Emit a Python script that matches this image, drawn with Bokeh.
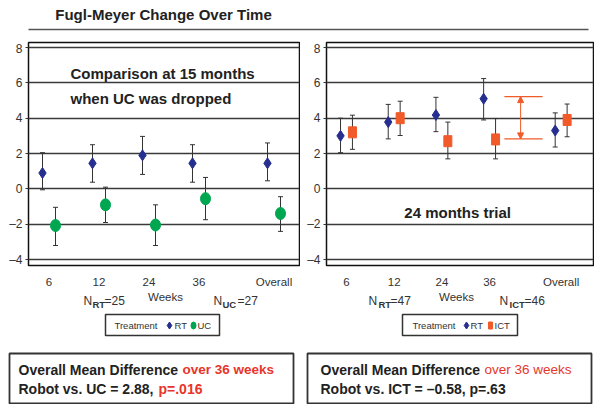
from bokeh.plotting import figure
from bokeh.layouts import column, row
from bokeh.models import (Range1d, FixedTicker, ColumnDataSource, Whisker, TeeHead,
                          Label, Arrow, NormalHead)
from bokeh.embed import file_html
from bokeh.resources import INLINE

FONT = "Liberation Sans"

# ---------------- data ----------------
categories = ["6", "12", "24", "36", "Overall"]
cat_pos = [0, 1, 2, 3, 4.5]
y_ticks = [-4, -2, 0, 2, 4, 6, 8]

# 15-month comparison (RT vs UC)
rt15_mean = [0.9, 1.45, 1.9, 1.45, 1.45]
rt15_lower = [-0.05, 0.38, 0.82, 0.38, 0.46]
rt15_upper = [2.05, 2.5, 2.97, 2.5, 2.6]
uc_mean = [-2.07, -0.9, -2.04, -0.55, -1.39]
uc_lower = [-3.2, -1.9, -3.2, -1.74, -2.4]
uc_upper = [-1.04, 0.1, -0.9, 0.65, -0.44]

# 24-month trial (RT vs ICT)
rt24_mean = [3.0, 3.78, 4.18, 5.1, 3.3]
rt24_lower = [2.05, 2.83, 3.24, 3.9, 2.37]
rt24_upper = [4.0, 4.78, 5.18, 6.24, 4.3]
ict_mean = [3.2, 4.0, 2.7, 2.8, 3.9]
ict_lower = [2.24, 3.02, 1.7, 1.7, 2.95]
ict_upper = [4.17, 4.96, 3.78, 3.98, 4.8]

gap_values = [5.22, 2.83]
bracket_x = [3.31, 4.11]
arrow_x = 3.65

n_left = [("RT", "25"), ("UC", "27")]
n_right = [("RT", "47"), ("ICT", "46")]

title_text = "Fugl-Meyer Change Over Time"
left_note = ["Comparison at 15 months", "when UC was dropped"]
right_note = "24 months trial"
box_left = [("Overall Mean Difference ", "over 36 weeks"), ("Robot vs. UC = 2.88, ", "p=.016")]
box_right = [("Overall Mean Difference ", "over 36 weeks"), ("Robot vs. ICT = \u20130.58, p=.63", "")]

# ---------------- styles ----------------
BLUE = "#262f8f"
GREEN = "#00a650"
ORANGE = "#f15a29"
RED = "#e8352b"
DARK = "#222222"
GRID = "#3a3a3a"


def lbl(p, x, y, text, size="12px", bold=False, color=DARK, align="left", baseline="middle"):
    p.add_layout(Label(x=x, y=y, text=text, text_font=FONT, text_font_size=size,
                       text_font_style="bold" if bold else "normal", text_color=color,
                       text_align=align, text_baseline=baseline))


def panel(width, mleft, mright, xs, xe):
    p = figure(width=width, height=249, x_range=Range1d(xs, xe), y_range=Range1d(-4.33, 8.28),
               toolbar_location=None, output_backend="svg",
               min_border_left=mleft, min_border_right=mright, min_border_top=1, min_border_bottom=21)
    p.background_fill_color = "white"
    p.border_fill_color = "white"
    p.outline_line_color = "#111111"
    p.outline_line_width = 1.5
    p.xgrid.visible = False
    p.ygrid.ticker = FixedTicker(ticks=y_ticks)
    p.ygrid.grid_line_color = GRID
    p.ygrid.grid_line_width = 1.5
    p.yaxis.ticker = FixedTicker(ticks=y_ticks)
    p.yaxis.major_label_overrides = {t: (("\u2013" + str(-t)) if t < 0 else str(t)) for t in y_ticks}
    p.yaxis.axis_line_color = None
    p.yaxis.major_tick_out = 3
    p.yaxis.major_tick_in = 0
    p.yaxis.major_tick_line_color = "#333333"
    p.yaxis.minor_tick_line_color = None
    p.yaxis.major_label_standoff = 3
    p.yaxis.major_label_text_font = FONT
    p.yaxis.major_label_text_font_size = "12px"
    p.yaxis.major_label_text_color = "#333333"
    p.xaxis.ticker = FixedTicker(ticks=cat_pos)
    p.xaxis.major_label_overrides = {c: l for c, l in zip(cat_pos, categories)}
    p.xaxis.axis_line_color = None
    p.xaxis.major_tick_line_color = None
    p.xaxis.minor_tick_line_color = None
    p.xaxis.major_label_standoff = 4
    p.xaxis.major_label_text_font = FONT
    p.xaxis.major_label_text_font_size = "11.5px"
    p.xaxis.major_label_text_color = "#333333"
    return p


def series(p, offset, mean, lower, upper, kind, color):
    xs = [c + offset for c in cat_pos]
    src = ColumnDataSource(dict(x=xs, y=mean, lo=lower, hi=upper))
    p.add_layout(Whisker(source=src, base="x", upper="hi", lower="lo", dimension="height",
                         line_color="#333333", line_width=1,
                         upper_head=TeeHead(size=5, line_color="#333333", line_width=1),
                         lower_head=TeeHead(size=5, line_color="#333333", line_width=1)))
    if kind == "diamond":
        p.scatter("x", "y", source=src, marker="diamond", size=11, fill_color=color, line_color=color)
    elif kind == "ellipse":
        p.ellipse("x", "y", source=src, width=10, height=12, width_units="screen",
                  height_units="screen", fill_color=color, line_color=color)
    else:
        p.rect("x", "y", source=src, width=8, height=11, width_units="screen",
               height_units="screen", fill_color=color, line_color=color)


# ---------------- header ----------------
hdr = figure(width=594, height=41, x_range=Range1d(0, 594), y_range=Range1d(41, 0),
             toolbar_location=None, output_backend="svg", x_axis_location=None,
             y_axis_location=None, min_border=0, outline_line_color=None)
hdr.grid.visible = False
lbl(hdr, 163, 14, title_text, size="15px", bold=True, align="center")
hdr.line([28, 588], [29, 29], line_color="#555555", line_width=1.5)

# ---------------- panels ----------------
left = panel(300, 28, 1, -0.41, 5.01)
series(left, -0.13, rt15_mean, rt15_lower, rt15_upper, "diamond", BLUE)
series(left, 0.13, uc_mean, uc_lower, uc_upper, "ellipse", GREEN)
lbl(left, 0.43, 6.55, left_note[0], size="15px", bold=True)
lbl(left, 0.43, 5.1, left_note[1], size="15px", bold=True)

right = panel(294, 26, 1, -0.419, 5.178)
series(right, -0.125, rt24_mean, rt24_lower, rt24_upper, "diamond", BLUE)
series(right, 0.125, ict_mean, ict_lower, ict_upper, "rect", ORANGE)
lbl(right, 2.33, -1.33, right_note, size="15px", bold=True, align="center")
right.segment(x0=[bracket_x[0]] * 2, x1=[bracket_x[1]] * 2, y0=gap_values, y1=gap_values,
              line_color=ORANGE, line_width=1.2)
right.add_layout(Arrow(x_start=arrow_x, y_start=gap_values[1], x_end=arrow_x, y_end=gap_values[0],
                       line_color=ORANGE, line_width=1,
                       start=NormalHead(size=6, fill_color=ORANGE, line_color=ORANGE),
                       end=NormalHead(size=6, fill_color=ORANGE, line_color=ORANGE)))

# ---------------- footer ----------------
ftr = figure(width=594, height=114, x_range=Range1d(0, 594), y_range=Range1d(114, 0),
             toolbar_location=None, output_backend="svg", x_axis_location=None,
             y_axis_location=None, min_border=0, outline_line_color=None)
ftr.grid.visible = False

# axis titles
lbl(ftr, 165, 6, "Weeks", size="11.5px", color="#333333", align="center")
lbl(ftr, 456, 6, "Weeks", size="11.5px", color="#333333", align="center")

# N labels
n_pos = [(83, 92, 104), (213, 222, 237), (368, 378, 390), (499, 509, 524)]
for (sub, n), (xn, xs_, xe) in zip(n_left + n_right, n_pos):
    lbl(ftr, xn, 10.5, "N", size="12px", color="#333333")
    lbl(ftr, xs_, 13.5, sub, size="9.5px", bold=True, color="#333333")
    lbl(ftr, xe, 10.5, "=" + n, size="12px", color="#333333")

# legends
ftr.quad(left=[105, 402], right=[219, 517], top=[24, 24], bottom=[45, 45],
         fill_alpha=0, line_color="#333333", line_width=1.5)
lbl(ftr, 114, 35, "Treatment", size="9.5px", color="#333333")
ftr.scatter([169], [35], marker="diamond", size=7, fill_color=BLUE, line_color=BLUE)
lbl(ftr, 174, 35, "RT", size="9.5px", color="#333333")
ftr.ellipse([193], [35], width=5, height=7, width_units="screen", height_units="screen",
            fill_color=GREEN, line_color=GREEN)
lbl(ftr, 197, 35, "UC", size="9.5px", color="#333333")
lbl(ftr, 412, 35, "Treatment", size="9.5px", color="#333333")
ftr.scatter([466], [35], marker="diamond", size=7, fill_color=BLUE, line_color=BLUE)
lbl(ftr, 470, 35, "RT", size="9.5px", color="#333333")
ftr.rect([490], [35], width=4, height=7, width_units="screen", height_units="screen",
         fill_color=ORANGE, line_color=ORANGE)
lbl(ftr, 494, 35, "ICT", size="9.5px", color="#333333")

# result boxes
ftr.quad(left=[9, 307], right=[293, 591], top=[63, 63], bottom=[113, 113],
         fill_alpha=0, line_color="#333333", line_width=1.8)
lbl(ftr, 18, 79, box_left[0][0], size="14px", bold=True)
lbl(ftr, 182, 79, box_left[0][1], size="13.5px", bold=True, color=RED)
lbl(ftr, 18, 98, box_left[1][0], size="14px", bold=True)
lbl(ftr, 158, 98, box_left[1][1], size="14px", bold=True, color=RED)
lbl(ftr, 320, 79, box_right[0][0], size="14px", bold=True)
lbl(ftr, 484, 79, box_right[0][1], size="13.5px", color=RED)
lbl(ftr, 320, 98, box_right[1][0], size="14px", bold=True)

layout = column(hdr, row(left, right), ftr)

with open("out.html", "w") as f:
    f.write(file_html(layout, INLINE))
